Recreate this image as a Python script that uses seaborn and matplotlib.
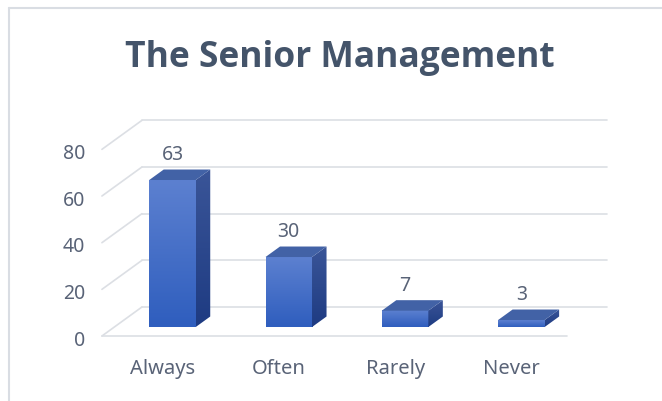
import matplotlib
matplotlib.use("Agg")
import matplotlib.pyplot as plt
import matplotlib.transforms as mtransforms
from matplotlib.colors import LinearSegmentedColormap
from matplotlib.lines import Line2D
from matplotlib.patches import Polygon
import numpy as np
import pandas as pd
import seaborn as sns

categories = ["Always", "Often", "Rarely", "Never"]
values = [63, 30, 7, 3]
y_ticks = [0, 20, 40, 60, 80]

df = pd.DataFrame({"answer": categories, "count": values})

sns.set_theme(style="white")
plt.rcParams["font.family"] = ["Noto Sans", "DejaVu Sans"]

text_col = "#596377"
grid_col = "#dcdfe4"
front_cmap = LinearSegmentedColormap.from_list("front", ["#2f5ebe", "#5c80d0"])
side_cmap = LinearSegmentedColormap.from_list("side", ["#1e3b82", "#3a5598"])
top_col = "#4262a6"

fig = plt.figure(figsize=(6.62, 4.01), dpi=100)
ax = fig.add_axes([0.1727, 0.1845, 0.7027, 0.4655])
sns.barplot(data=df, x="answer", y="count", width=0.4, color="#3d66c4", ax=ax)
ax.set_xlim(-0.5, 3.5)
ax.set_ylim(0, 80)
ax.set_xlabel("")
ax.set_ylabel("")
sns.despine(ax=ax, left=True, bottom=True)

# pixels -> data units for the fake 3d offsets
ppx = 0.7027 * 662 / 4
ppy = 0.4655 * 401 / 80


def px(dx, dy):
    return dx / ppx, dy / ppy


# walls: back wall, left side wall and front floor edge
bx, by = px(27.6, 20)
fx, fy = px(-12.4, -9)
for v in y_ticks:
    ax.plot([-0.5 + bx, 3.5 + bx], [v + by, v + by], color=grid_col, lw=1.2, clip_on=False, zorder=0)
    ax.plot([-0.5 + fx, -0.5 + bx], [v + fy, v + by], color=grid_col, lw=1.2, clip_on=False, zorder=0)
ax.plot([-0.5 + fx, 3.5 + fx], [fy, fy], color=grid_col, lw=1.2, clip_on=False, zorder=0)

# bars with side and top faces
ddx, ddy = px(14.5, 10.5)
grad = np.linspace(0, 1, 100).reshape(-1, 1)
for p, v in zip(ax.patches, values):
    x0 = p.get_x()
    w = p.get_width()
    h = p.get_height()
    p.set_facecolor("none")
    p.set_edgecolor("none")
    ax.imshow(grad, extent=[x0, x0 + w, 0, h], origin="lower", aspect="auto",
              cmap=front_cmap, zorder=4)
    side = Polygon([(x0 + w, 0), (x0 + w + ddx, ddy), (x0 + w + ddx, h + ddy), (x0 + w, h)],
                   closed=True, facecolor="none", edgecolor="none", zorder=4)
    ax.add_patch(side)
    im = ax.imshow(grad, extent=[x0 + w, x0 + w + ddx, 0, h + ddy], origin="lower",
                   aspect="auto", cmap=side_cmap, zorder=4)
    im.set_clip_path(side)
    ax.add_patch(Polygon([(x0, h), (x0 + w, h), (x0 + w + ddx, h + ddy), (x0 + ddx, h + ddy)],
                         closed=True, facecolor=top_col, edgecolor="none", zorder=5))
    ax.annotate(str(v), (x0 + w / 2, h), xytext=(0, 18), textcoords="offset points",
                ha="center", va="center", fontsize=14, color=text_col)

ax.set_xlim(-0.5, 3.5)
ax.set_ylim(0, 80)
ax.set_yticks(y_ticks)
ax.tick_params(axis="y", length=0, pad=21, labelsize=14, labelcolor=text_col)
ax.tick_params(axis="x", length=0, pad=23, labelsize=14.5, labelcolor=text_col)
for lab in ax.get_yticklabels():
    lab.set_transform(lab.get_transform() + mtransforms.ScaledTranslation(0, -0.11, fig.dpi_scale_trans))
for lab in ax.get_xticklabels():
    lab.set_transform(lab.get_transform() + mtransforms.ScaledTranslation(-0.10, 0, fig.dpi_scale_trans))

fig.text(339.5 / 662, 1 - 67 / 401, "The Senior Management", ha="center", va="baseline",
         fontsize=25.5, fontweight="bold", color="#44546a", family=["Open Sans", "DejaVu Sans"])

# chart frame
fig.add_artist(Line2D([9 / 662, 9 / 662], [0, 1 - 8 / 401], color="#d9dde3", lw=1.5))
fig.add_artist(Line2D([9 / 662, 1], [1 - 8 / 401, 1 - 8 / 401], color="#d9dde3", lw=1.5))

fig.savefig("out.png", dpi=100, facecolor="white")
